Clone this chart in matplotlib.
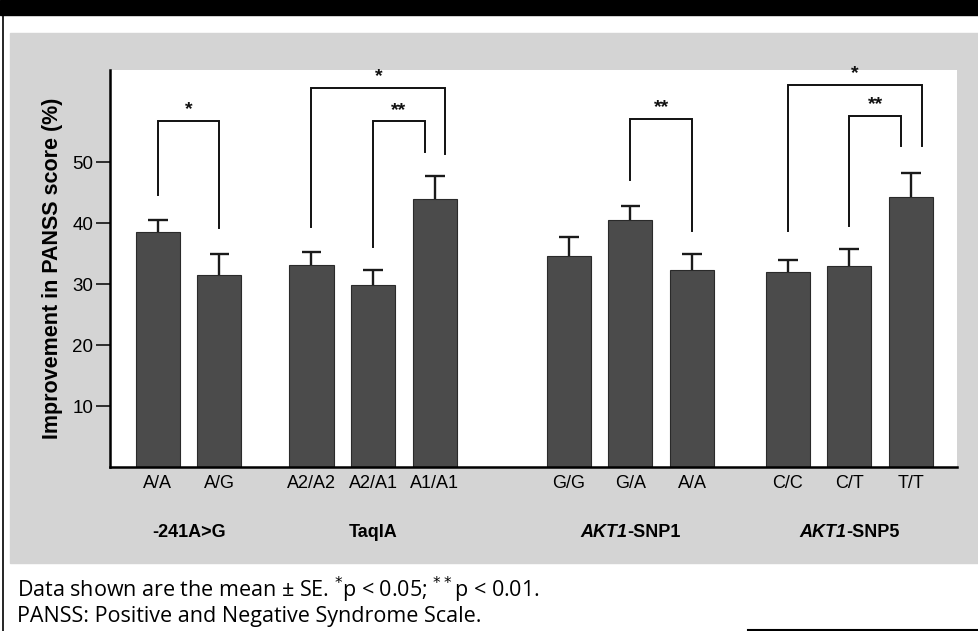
import matplotlib
matplotlib.use("Agg")
import matplotlib.pyplot as plt
from matplotlib.patches import Rectangle
from matplotlib.lines import Line2D
from matplotlib.offsetbox import TextArea, HPacker, AnnotationBbox

plt.rcParams['font.family'] = ['Liberation Sans', 'DejaVu Sans']

# data
groups = ['-241A>G', 'TaqIA', 'AKT1-SNP1', 'AKT1-SNP5']
genotypes = [['A/A', 'A/G'],
             ['A2/A2', 'A2/A1', 'A1/A1'],
             ['G/G', 'G/A', 'A/A'],
             ['C/C', 'C/T', 'T/T']]
means = [38.5, 31.5, 33.1, 29.9, 43.9, 34.6, 40.5, 32.3, 32.0, 33.0, 44.2]
se = [2.0, 3.4, 2.2, 2.4, 3.8, 3.1, 2.3, 2.6, 2.0, 2.8, 4.0]

# significance brackets: bar index left/right, top, leg ends, label
br_left = [0, 2, 3, 6, 8, 9]
br_right = [1, 4, 4, 7, 10, 10]
br_top = [56.8, 62.2, 56.7, 57.1, 62.7, 57.6]
br_lbot = [44.6, 39.3, 36.1, 47.0, 38.7, 39.5]
br_rbot = [39.2, 51.3, 51.6, 38.7, 52.6, 52.6]
br_lab = ['*', '*', '**', '**', '*', '**']

# layout
group_start = [0.77, 3.25, 7.40, 10.93]
xpos = []
for g, labs in enumerate(genotypes):
    for i in range(len(labs)):
        xpos.append(group_start[g] + i * 0.995)
ticklabels = [t for labs in genotypes for t in labs]

fig = plt.figure(figsize=(9.79, 6.31), dpi=100)

# page decorations: header bar, grey panel, frame lines
fig.patches.append(Rectangle((0, 1 - 15/631), 1, 15/631, transform=fig.transFigure,
                             color='black', zorder=-10))
fig.patches.append(Rectangle((10/979, 1 - 563/631), 1, (563 - 33)/631,
                             transform=fig.transFigure, color='#d4d4d4', zorder=-10))
fig.lines.append(Line2D([3/979, 3/979], [0, 1 - 15/631], transform=fig.transFigure,
                        color='black', lw=1.2, zorder=-5))
fig.lines.append(Line2D([748/979, 1], [1.5/631, 1.5/631], transform=fig.transFigure,
                        color='black', lw=1.5, zorder=-5))

ax = fig.add_axes([110/979, 1 - 467/631, (957 - 110)/979, (467 - 70)/631])
ax.set_zorder(5)
ax.set_facecolor('white')
ax.set_xlim(0, 847/62)
ax.set_ylim(0, 65.1)

ax.bar(xpos, means, width=0.71, color='#4b4b4b', edgecolor='#2a2a2a', lw=0.8, zorder=2)
tops = [m + s for m, s in zip(means, se)]
ax.vlines(xpos, means, tops, color='#1a1a1a', lw=1.7, zorder=3)
ax.hlines(tops, [x - 0.16 for x in xpos], [x + 0.16 for x in xpos],
          color='#1a1a1a', lw=1.7, zorder=3)

# brackets, legs shifted when two share the same right bar
right_use = {}
for r in br_right:
    right_use[r] = right_use.get(r, 0) + 1
for l, r, top, lb, rb, lab in zip(br_left, br_right, br_top, br_lbot, br_rbot, br_lab):
    xl = xpos[l]
    xr = xpos[r]
    if right_use[r] > 1:
        xr = xr + (-0.16 if lab == '**' else 0.17)
    ax.plot([xl, xl, xr, xr], [lb, top, top, rb], color='#111111', lw=1.4,
            solid_joinstyle='miter', zorder=3)
    ax.text((xl + xr) / 2, top + 0.4, lab, ha='center', va='bottom',
            fontsize=14, fontweight='bold', color='#111111')

ax.spines['top'].set_visible(False)
ax.spines['right'].set_visible(False)
ax.spines['left'].set_linewidth(1.8)
ax.spines['bottom'].set_linewidth(1.8)

ax.set_yticks([10, 20, 30, 40, 50])
ax.tick_params(axis='y', direction='out', length=10, width=1.1, pad=2, labelsize=13.5)
ax.set_xticks(xpos)
ax.set_xticklabels(ticklabels)
ax.tick_params(axis='x', length=0, pad=6, labelsize=13)
ax.set_ylabel('Improvement in PANSS score (%)', fontsize=15.5, fontweight='bold', labelpad=7)

# group names under the genotype labels
centers = []
k = 0
for labs in genotypes:
    n = len(labs)
    centers.append(sum(xpos[k:k + n]) / n)
    k += n
for name, cx in zip(groups, centers):
    if name.startswith('AKT1'):
        p1 = TextArea('AKT1', textprops=dict(fontsize=13, fontweight='bold', fontstyle='italic'))
        p2 = TextArea(name[4:], textprops=dict(fontsize=13, fontweight='bold'))
        box = HPacker(children=[p1, p2], align='baseline', pad=0, sep=0)
        ab = AnnotationBbox(box, (cx, -0.165), xycoords=ax.get_xaxis_transform(),
                            frameon=False, box_alignment=(0.5, 0.5), annotation_clip=False)
        ax.add_artist(ab)
    else:
        ax.text(cx, -0.165, name, transform=ax.get_xaxis_transform(), ha='center',
                va='center', fontsize=13, fontweight='bold')

foot = ['Open Sans', 'DejaVu Sans']
fig.text(17/979, 1 - 601/631,
         'Data shown are the mean ± SE. $^{*}$p < 0.05; $^{**}$p < 0.01.\n'
         'PANSS: Positive and Negative Syndrome Scale.',
         fontsize=15.5, family=foot, va='center', ha='left', linespacing=1.05)

fig.savefig('out.png', dpi=100)
